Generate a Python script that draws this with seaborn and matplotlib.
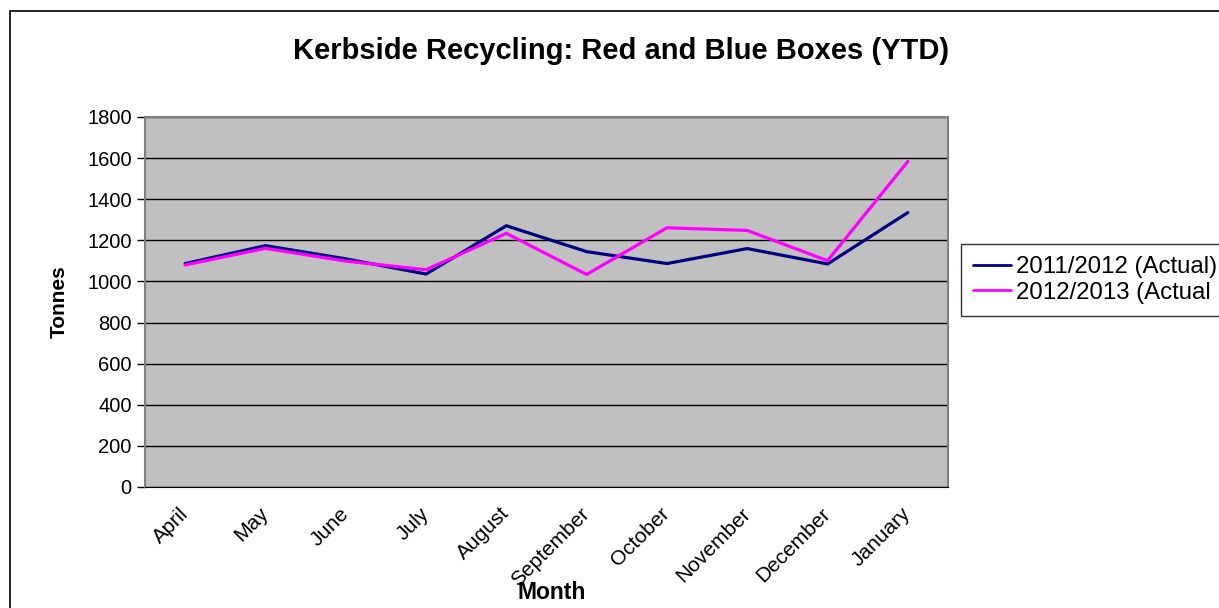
"""
Kerbside recycling tonnage (red and blue boxes), year to date.
"""

import numpy as np
import pandas as pd
import matplotlib
matplotlib.use('Agg')
import matplotlib.pyplot as plt
from matplotlib.patches import Rectangle
import seaborn as sns

# Data
months = ['April', 'May', 'June', 'July', 'August', 'September',
          'October', 'November', 'December', 'January']
tonnes_2011 = [1087, 1174, 1110, 1036, 1271, 1145, 1087, 1160, 1085, 1335]
tonnes_2012 = [1080, 1161, 1099, 1057, 1234, 1034, 1261, 1248, 1101, 1584]
series_names = ['2011/2012 (Actual)', '2012/2013 (Actual']
series_colors = ['#000080', '#FF00FF']

sns.set_style("white")
plt.rcParams['font.family'] = ['Liberation Sans', 'DejaVu Sans']
plt.rcParams['text.color'] = 'black'
plt.rcParams['axes.labelcolor'] = 'black'
plt.rcParams['xtick.color'] = 'black'
plt.rcParams['ytick.color'] = 'black'

df = pd.DataFrame({
    'Month': months * 2,
    'Tonnes': tonnes_2011 + tonnes_2012,
    'Series': [series_names[0]] * len(months) + [series_names[1]] * len(months),
})

fig = plt.figure(figsize=(12.19, 6.08), dpi=100)
ax = fig.add_axes([145 / 1219, 1 - 487 / 608, (948 - 145) / 1219, (487 - 117) / 608])

sns.lineplot(data=df, x='Month', y='Tonnes', hue='Series',
             palette=series_colors, linewidth=2.3, sort=False, ax=ax, legend=False)

ax.set_facecolor('#C0C0C0')
ax.set_xlim(-0.5, len(months) - 0.5)
ax.set_ylim(0, 1800)
ax.set_yticks(np.arange(0, 1801, 200))
ax.yaxis.grid(True, color='black', linewidth=1)
ax.set_axisbelow(True)

# categories sit between the tick marks
ax.set_xticks(np.arange(len(months)))
ax.set_xticklabels(months, rotation=45, ha='right', va='center',
                   rotation_mode='anchor', fontsize=15)
ax.set_xticks(np.arange(-0.5, len(months)), minor=True)
ax.tick_params(axis='x', which='major', length=0, pad=17)
ax.tick_params(axis='x', which='minor', length=6, width=1, direction='out')
ax.tick_params(axis='y', length=6, width=1, direction='out', labelsize=14.5, left=True)

for side in ['top', 'right', 'left']:
    ax.spines[side].set_color('#808080')
    ax.spines[side].set_linewidth(1.5)
ax.spines['bottom'].set_color('black')

ax.set_xlabel('Month', fontsize=16.5, fontweight='bold', va='center')
ax.xaxis.set_label_coords(0.506, -0.284)
ax.set_ylabel('Tonnes', fontsize=15, fontweight='bold')
ax.yaxis.set_label_coords(-0.095, 0.5)
fig.suptitle('Kerbside Recycling: Red and Blue Boxes (YTD)', x=621 / 1219, y=1 - 51 / 608,
             fontsize=21, fontweight='bold', va='center')

handles = [plt.Line2D([0], [0], color=c, linewidth=2) for c in series_colors]
leg = fig.legend(handles, series_names, loc='upper left',
                 bbox_to_anchor=(961 / 1219, 1 - 244 / 608), fontsize=17.3,
                 frameon=True, fancybox=False, handlelength=1.6, handletextpad=0.2,
                 borderpad=0.5, labelspacing=0.15, borderaxespad=0)
leg.get_frame().set_edgecolor('black')
leg.get_frame().set_linewidth(1)

# chart area border
fig.patches.append(Rectangle((10 / 1219, -0.1), 1.2, 1 - 11 / 608 + 0.1,
                             transform=fig.transFigure, fill=False,
                             edgecolor='black', linewidth=1.2))

plt.savefig('out.png', dpi=100)
plt.close()
